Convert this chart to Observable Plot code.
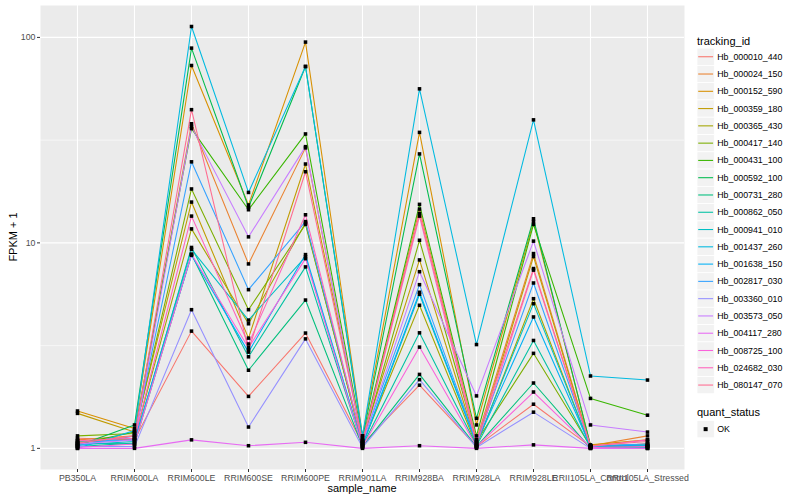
<!DOCTYPE html>
<html>
<head>
<meta charset="utf-8">
<script src="https://cdn.jsdelivr.net/npm/d3@7"></script>
<script src="https://cdn.jsdelivr.net/npm/@observablehq/plot@0.6"></script>
<style>
  html, body { margin: 0; padding: 0; background: #fff; }
  #wrap { position: relative; width: 800px; height: 500px; font-family: "Liberation Sans", Arial, sans-serif; }
  #chart { position: absolute; left: 0; top: 0; }
  #legend { position: absolute; left: 690px; top: 0; }
  .t { position: absolute; white-space: nowrap; color: #000; }
</style>
</head>
<body>
<div id="wrap">
  <div id="chart"></div>
  <div id="legend"></div>
</div>
<script>
const categories = ["PB350LA", "RRIM600LA", "RRIM600LE", "RRIM600SE", "RRIM600PE", "RRIM901LA",
  "RRIM928BA", "RRIM928LA", "RRIM928LE", "RRII105LA_Control", "RRII105LA_Stressed"];

const trackingIds = ["Hb_000010_440", "Hb_000024_150", "Hb_000152_590", "Hb_000359_180", "Hb_000365_430",
  "Hb_000417_140", "Hb_000431_100", "Hb_000592_100", "Hb_000731_280", "Hb_000862_050",
  "Hb_000941_010", "Hb_001437_260", "Hb_001638_150", "Hb_002817_030", "Hb_003360_010",
  "Hb_003573_050", "Hb_004117_280", "Hb_008725_100", "Hb_024682_030", "Hb_080147_070"];

const palette = ["#F8766D", "#EA8331", "#D89000", "#C09B00", "#A3A500", "#7CAE00", "#39B600", "#00BB4E",
  "#00BF7D", "#00C1A3", "#00BFC4", "#00BAE0", "#00B0F6", "#35A2FF", "#9590FF", "#C77CFF",
  "#E76BF3", "#FA62DB", "#FF62BC", "#FF6C91"];

// FPKM + 1 per sample (same order as categories)
const Hb_000010_440 = [1.12, 1.10, 3.72, 1.79, 3.64, 1.05, 2.03, 1.02, 1.64, 1.02, 1.05];
const Hb_000024_150 = [1.10, 1.15, 38, 7.9, 29, 1.08, 14.6, 1.10, 8.87, 1.03, 1.15];
const Hb_000152_590 = [1.52, 1.25, 73, 15.3, 94.9, 1.15, 34.5, 1.30, 12.7, 1.04, 1.10];
const Hb_000359_180 = [1.48, 1.20, 15.8, 3.44, 24.2, 1.10, 8.26, 1.05, 8.58, 1.02, 1.05];
const Hb_000365_430 = [1.08, 1.12, 11.7, 4.04, 12.5, 1.05, 4.97, 1.03, 5.35, 1.01, 1.02];
const Hb_000417_140 = [1.15, 1.18, 18.3, 4.73, 12.3, 1.06, 10.3, 1.08, 2.9, 1.02, 1.03];
const Hb_000431_100 = [1.05, 1.20, 36, 14.5, 33.9, 1.10, 15.4, 1.15, 12.3, 1.75, 1.45];
const Hb_000592_100 = [1.03, 1.30, 88.7, 14.9, 72.2, 1.12, 27.1, 1.40, 13.1, 1.03, 1.02];
const Hb_000731_280 = [1.06, 1.05, 8.8, 2.4, 5.27, 1.02, 2.29, 1.02, 2.08, 1.00, 1.01];
const Hb_000862_050 = [1.02, 1.06, 9.5, 2.79, 7.64, 1.03, 3.65, 1.03, 3.35, 1.01, 1.00];
const Hb_000941_010 = [1.04, 1.08, 9.3, 4.21, 8.55, 1.03, 5.62, 1.05, 5.06, 1.02, 1.03];
const Hb_001437_260 = [1.00, 1.22, 113, 17.6, 72.2, 1.15, 56.2, 3.2, 39.7, 2.25, 2.15];
const Hb_001638_150 = [1.07, 1.10, 8.7, 2.94, 8.77, 1.04, 5.75, 1.06, 4.36, 1.02, 1.04];
const Hb_002817_030 = [1.03, 1.15, 24.8, 5.92, 12.7, 1.08, 6.26, 1.07, 6.38, 1.03, 1.05];
const Hb_003360_010 = [1.02, 1.02, 4.73, 1.27, 3.41, 1.01, 2.16, 1.01, 1.5, 1.00, 1.00];
const Hb_003573_050 = [1.05, 1.10, 36.8, 10.7, 29.4, 1.07, 7.24, 1.8, 10.2, 1.30, 1.20];
const Hb_004117_280 = [1.00, 1.00, 1.1, 1.03, 1.07, 1.00, 1.03, 1.00, 1.04, 1.00, 1.00];
const Hb_008725_100 = [1.01, 1.05, 8.8, 3.09, 8.38, 1.02, 3.11, 1.02, 1.88, 1.01, 1.02];
const Hb_024682_030 = [1.09, 1.12, 13.5, 3.22, 13.7, 1.06, 13.5, 1.04, 7.37, 1.02, 1.10];
const Hb_080147_070 = [1.06, 1.15, 44.5, 3.0, 22.2, 1.09, 13.9, 1.10, 7.5, 1.03, 1.08];

const seriesValues = [Hb_000010_440, Hb_000024_150, Hb_000152_590, Hb_000359_180, Hb_000365_430,
  Hb_000417_140, Hb_000431_100, Hb_000592_100, Hb_000731_280, Hb_000862_050,
  Hb_000941_010, Hb_001437_260, Hb_001638_150, Hb_002817_030, Hb_003360_010,
  Hb_003573_050, Hb_004117_280, Hb_008725_100, Hb_024682_030, Hb_080147_070];

const yTicks = [1, 10, 100];
const yMinorGrid = [Math.sqrt(10), Math.sqrt(1000)];
const statuses = ["OK"];

const rows = [];
trackingIds.forEach((id, i) => {
  seriesValues[i].forEach((v, j) => rows.push({id, sample: categories[j], value: v, status: "OK"}));
});

const font = "Liberation Sans, Arial, Helvetica, sans-serif";

const plot = Plot.plot({
  width: 690,
  height: 500,
  marginLeft: 40,
  marginRight: 6,
  marginTop: 5,
  marginBottom: 31,
  style: {background: "transparent", fontFamily: font, fontSize: "8.8px", overflow: "visible"},
  x: {type: "point", domain: categories, padding: 0.6, label: null},
  y: {type: "log", domain: [0.789, 143], label: null},
  color: {domain: trackingIds, range: palette},
  marks: [
    Plot.frame({fill: "#EBEBEB", stroke: null}),
    Plot.gridY(yMinorGrid, {stroke: "#ffffff", strokeOpacity: 1, strokeWidth: 0.55}),
    Plot.gridY(yTicks, {stroke: "#ffffff", strokeOpacity: 1, strokeWidth: 1.1}),
    Plot.gridX(categories, {stroke: "#ffffff", strokeOpacity: 1, strokeWidth: 1.1}),
    Plot.axisX(categories, {tickSize: 3, tickPadding: 2, stroke: "#333333", fill: "#4D4D4D", label: null}),
    Plot.axisY(yTicks, {tickSize: 3, tickPadding: 2, stroke: "#333333", fill: "#4D4D4D", label: null, tickFormat: d => String(d)}),
    Plot.line(rows, {x: "sample", y: "value", z: "id", stroke: "id", strokeWidth: 1.07}),
    Plot.dot(rows, {x: "sample", y: "value", symbol: "square", r: 2, fill: "black", stroke: null})
  ]
});
document.getElementById("chart").appendChild(plot);

const wrap = document.getElementById("wrap");
function addText(txt, css) {
  const d = document.createElement("div");
  d.className = "t";
  d.textContent = txt;
  Object.assign(d.style, css);
  wrap.appendChild(d);
  return d;
}
// axis titles
addText("sample_name", {left: "362px", top: "482px", fontSize: "11px", transform: "translateX(-50%)"});
addText("FPKM + 1", {left: "13px", top: "237px", fontSize: "11px", transform: "translate(-50%, -50%) rotate(-90deg)"});

// legend (SVG drawn with d3)
const lg = d3.select("#legend").append("svg")
  .attr("width", 110).attr("height", 500)
  .style("font-family", font);
const keyX = 7, keyW = 17.28, keyH = 17.28, firstKey = 48.1;
lg.append("text").attr("x", 7).attr("y", 44.5).attr("font-size", 11).attr("fill", "#000").text("tracking_id");
const keys = lg.selectAll("g.k").data(trackingIds).join("g").attr("class", "k")
  .attr("transform", (d, i) => `translate(${keyX},${firstKey + i * keyH})`);
keys.append("rect").attr("width", keyW).attr("height", keyH).attr("fill", "#F2F2F2").attr("stroke", "#fff").attr("stroke-width", 0.8);
keys.append("line").attr("x1", 1.2).attr("x2", keyW - 1.2).attr("y1", keyH / 2).attr("y2", keyH / 2)
  .attr("stroke", (d, i) => palette[i]).attr("stroke-width", 1.07);
keys.append("text").attr("x", keyW + 3).attr("y", keyH / 2).attr("dy", "0.35em")
  .attr("font-size", 8.8).attr("fill", "#000").text(d => d);

lg.append("text").attr("x", 7).attr("y", 415.5).attr("font-size", 11).attr("fill", "#000").text("quant_status");
const sk = lg.selectAll("g.s").data(statuses).join("g").attr("class", "s")
  .attr("transform", (d, i) => `translate(${keyX},${420.5 + i * keyH})`);
sk.append("rect").attr("width", keyW).attr("height", keyH).attr("fill", "#F2F2F2").attr("stroke", "#fff").attr("stroke-width", 0.8);
sk.append("rect").attr("x", keyW / 2 - 2).attr("y", keyH / 2 - 2).attr("width", 4).attr("height", 4).attr("fill", "#000");
sk.append("text").attr("x", keyW + 3).attr("y", keyH / 2).attr("dy", "0.35em")
  .attr("font-size", 8.8).attr("fill", "#000").text(d => d);
</script>
</body>
</html>
